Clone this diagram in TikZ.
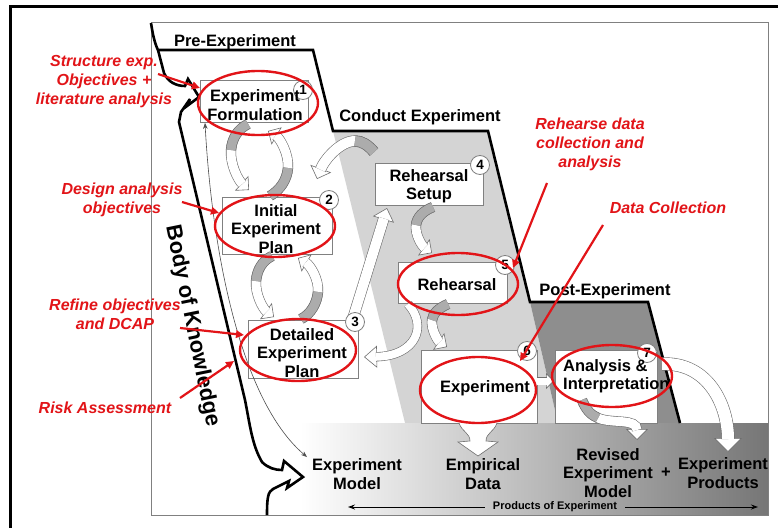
\documentclass[tikz,border=0pt]{standalone}
\usepackage{fontspec}
\setmainfont{Liberation Sans}
\usetikzlibrary{arrows.meta,shapes.geometric}
\definecolor{myred}{RGB}{226,20,24}
\definecolor{boxgray}{RGB}{128,128,128}
\definecolor{agray}{RGB}{110,110,110}
\definecolor{tailgray}{RGB}{172,172,172}
\definecolor{lightreg}{RGB}{212,212,212}
\definecolor{darkreg}{RGB}{142,142,142}
\definecolor{bandend}{RGB}{118,118,118}
\tikzset{
  bline/.style={black, line width=2.6pt, line join=miter, miter limit=6},
  box/.style={draw=boxgray, fill=white, line width=0.9pt, inner sep=0pt, anchor=north west},
  btxt/.style={font=\fontsize{16.5}{18.5}\selectfont\bfseries, align=center, inner sep=0pt},
  headtxt/.style={font=\fontsize{16.5}{19}\selectfont\bfseries, inner sep=0pt},
  rtxt/.style={text=myred, font=\fontsize{16}{19}\selectfont\bfseries\itshape, align=center, inner sep=0pt},
  redell/.style={ellipse, draw=myred, line width=2.4pt, inner sep=0pt},
  redarr/.style={draw=myred, line width=2.2pt, -{Triangle[length=8pt,width=7.5pt]}},
  num/.style={circle, draw=boxgray, fill=white, line width=0.8pt, minimum size=19pt, inner sep=0pt, font=\fontsize{13.5}{13.5}\selectfont\bfseries},
  thinarr/.style={draw=black!70, line width=0.6pt, {Stealth[length=6pt,width=4.5pt]}-{Stealth[length=6pt,width=4.5pt]}},
  poearr/.style={draw=black, line width=0.9pt, -{Stealth[length=7pt,width=5pt]}},
  headtip/.style 2 args={draw=agray, line width=0.6pt, -{Triangle[width=#1, length=#2, fill=white]}},
  shaft/.style 2 args={draw=agray, line width=0.6pt, double=white, double distance=#1, shorten >=#2},
  tailpart/.style={draw=agray, line width=0.6pt, double=tailgray, double distance=#1},
  funnel/.style={draw=agray, fill=white, line width=0.6pt, line join=miter},
}
% #1 shaft width, #2 head width, #3 head length, #4 shaft shortening, #5 path
\newcommand{\hollowarr}[5]{\draw[headtip={#2}{#3}] #5; \draw[shaft={#1}{#4}] #5;}
\begin{document}
\begin{tikzpicture}[x=1pt,y=-1pt]
\useasboundingbox (0,0) rectangle (778,527);
\fill[white] (0,0) rectangle (778,527);
% outer frame
\draw[line width=3pt] (10,540) -- (10,7) -- (790,7);
% inner picture and phase backgrounds
\fill[white] (151,23) rectangle (768,515);
\fill[lightreg] (333,131) -- (488,131) -- (530,302) -- (558,423) -- (405,423) -- cycle;
\fill[darkreg] (530,302) -- (648,302) -- (680,423) -- (558,423) -- cycle;
\shade[left color=white, right color=bandend] (300,423) rectangle (768,515);
\draw[boxgray, line width=1pt] (151,23) rectangle (768,515);
% phase boundary
\draw[bline] (151,23) .. controls (153,36) and (155,44) .. (158,50) -- (313,50) -- (333,131) -- (488,131) -- (530,302) -- (648,302) -- (680,423);
% body of knowledge outline
\draw[bline] (158,50) -- (164,73) .. controls (168,82) and (176,86) .. (185,86) -- (188,79) -- (199,97) -- (187,106) -- (190,99) -- (181,112) -- (179,122) -- (245,400) .. controls (250,425) and (252,445) .. (262,462) .. controls (268,468) and (275,470) .. (282,470) -- (284,461) -- (303,477) -- (287,488) -- (289,481) -- (273,489) .. controls (268,492) and (267,497) .. (267,515);
% boxes
\node[box, minimum width=108pt, minimum height=42pt] (b1) at (200,80) {};
\node[box, minimum width=110pt, minimum height=57pt] (b2) at (222,197) {};
\node[box, minimum width=110pt, minimum height=58pt] (b3) at (248,320) {};
\node[box, minimum width=108pt, minimum height=42pt] (b4) at (375,163) {};
\node[box, minimum width=109pt, minimum height=41pt] (b5) at (398,262) {};
\node[box, minimum width=116pt, minimum height=73pt] (b6) at (421,350) {};
\node[box, minimum width=102pt, minimum height=73pt] (b7) at (555,350) {};
% thin link from Experiment Model to Experiment Formulation
\coordinate (modelin) at (307,457);
\draw[thinarr] (b1.south west -| 205,0) .. controls (212,250) and (240,400) .. (modelin);
% hollow process arrows
\hollowarr{9pt}{20pt}{10pt}{9pt}{(248,124) .. controls (238,129) and (232,138) .. (231,150) .. controls (230,164) and (238,180) .. (249,190)}
\draw[tailpart=9pt] (248,124) .. controls (238,129) and (232,138) .. (231,150);
\hollowarr{9pt}{20pt}{10pt}{9pt}{(270,196) .. controls (280,190) and (287,180) .. (288,168) .. controls (289,154) and (280,138) .. (268,131)}
\draw[tailpart=9pt] (270,196) .. controls (280,190) and (287,180) .. (288,168);
\hollowarr{9pt}{20pt}{10pt}{9pt}{(272,256) .. controls (262,261) and (257,270) .. (256,281) .. controls (255,294) and (263,309) .. (274,317)}
\draw[tailpart=9pt] (272,256) .. controls (262,261) and (257,270) .. (256,281);
\hollowarr{9pt}{20pt}{10pt}{9pt}{(301,319) .. controls (311,314) and (317,303) .. (318,292) .. controls (319,279) and (310,265) .. (298,258)}
\draw[tailpart=9pt] (301,319) .. controls (311,314) and (317,303) .. (318,292);
\hollowarr{10pt}{22pt}{11pt}{10pt}{(374,152) .. controls (368,145) and (362,141) .. (355,141) .. controls (340,141) and (324,160) .. (317,179)}
\draw[tailpart=10pt] (374,152) .. controls (368,145) and (362,141) .. (355,141);
\hollowarr{10pt}{22pt}{12pt}{11pt}{(353,318) -- (387,208)}
\hollowarr{9pt}{20pt}{10pt}{9pt}{(433,207) .. controls (423,211) and (417,217) .. (416,225) .. controls (415,235) and (422,246) .. (432,253)}
\draw[tailpart=9pt] (433,207) .. controls (423,211) and (417,217) .. (416,225);
\hollowarr{9pt}{20pt}{10pt}{9pt}{(448,304) .. controls (439,308) and (433,313) .. (432,320) .. controls (431,330) and (438,341) .. (447,347)}
\draw[tailpart=9pt] (448,304) .. controls (439,308) and (433,313) .. (432,320);
\hollowarr{8pt}{22pt}{13pt}{12pt}{(408,304) .. controls (428,326) and (416,356) .. (364,357)}
\hollowarr{7pt}{16pt}{8pt}{7pt}{(537,381) -- (554,381)}
\hollowarr{9pt}{22pt}{11pt}{10pt}{(582,400) .. controls (586,410) and (591,415) .. (598,418) .. controls (612,424) and (637,418) .. (637,440)}
\draw[tailpart=9pt] (582,400) .. controls (586,410) and (591,415) .. (598,418);
\hollowarr{12pt}{28pt}{14pt}{13pt}{(662,364) .. controls (708,362) and (728,405) .. (728,452)}
\draw[funnel] (459,423) .. controls (462,432) and (470,433) .. (470,441) -- (458,442) -- (478,456) -- (498,442) -- (486,441) .. controls (486,433) and (494,432) .. (497,423);
% step numbers
\node[num] (n1) at (303,90) {1};
\node[num] (n2) at (329,200) {2};
\node[num] (n3) at (355,322) {3};
\node[num] (n4) at (480,165) {4};
\node[num] (n5) at (505,265) {5};
\node[num] (n6) at (527,351) {6};
\node[num] (n7) at (647,353) {7};
% box texts
\node[btxt] (t1) at (255,105) {Experiment\\Formulation};
\node[btxt] (t2) at (276,229) {Initial\\Experiment\\Plan};
\node[btxt] (t3) at (302,353) {Detailed\\Experiment\\Plan};
\node[btxt] (t4) at (429,186) {Rehearsal\\Setup};
\node[btxt] (t5) at (457,285) {Rehearsal};
\node[btxt] (t6) at (485,388) {Experiment};
\node[btxt, align=left, anchor=west] (t7) at (563,376) {Analysis \&\\Interpretation};
% phase headings
\node[headtxt] (h1) at (235,42) {Pre-Experiment};
\node[headtxt] (h2) at (420,117) {Conduct Experiment};
\node[headtxt] (h3) at (605,291) {Post-Experiment};
\node[font=\fontsize{22}{22}\selectfont\bfseries, rotate=-78.5, inner sep=0pt] (bok) at (192,326) {Body of Knowledge};
% products
\node[btxt] (p1) at (357,474) {Experiment\\Model};
\node[btxt] (p2) at (483,474) {Empirical\\Data};
\node[btxt] (p3) at (608,473) {Revised\\Experiment\\Model};
\node[btxt] (plus) at (666,473) {+};
\node[btxt] (p4) at (723,473) {Experiment\\Products};
\node[font=\fontsize{11}{11}\selectfont\bfseries, inner sep=0pt] (poe) at (555,507) {Products of Experiment};
\coordinate (poeL) at (348,507);
\coordinate (poeR) at (758,507);
\draw[poearr] ([xshift=-8pt]poe.west) -- (poeL);
\draw[poearr] ([xshift=8pt]poe.east) -- (poeR);
% red highlights
\node[redell, minimum width=120pt, minimum height=64pt] (e1) at (258,103) {};
\node[redell, minimum width=120pt, minimum height=62pt] (e2) at (275,226) {};
\node[redell, minimum width=116pt, minimum height=62pt] (e3) at (298,350) {};
\node[redell, minimum width=120pt, minimum height=62pt] (e5) at (458,284) {};
\node[redell, minimum width=116pt, minimum height=66pt] (e6) at (478,390) {};
\node[redell, minimum width=120pt, minimum height=62pt] (e7) at (612,376) {};
\node[rtxt] (r1) at (104,82) {Structure exp.\\Objectives +\\literature analysis};
\node[rtxt] (r2) at (122,200) {Design analysis\\objectives};
\node[rtxt] (r3) at (115,314) {Refine objectives\\and DCAP};
\node[rtxt] (r4) at (105,408) {Risk Assessment};
\node[rtxt] (r5) at (590,144) {Rehearse data\\collection and\\analysis};
\node[rtxt] (r6) at (668,208) {Data Collection};
\coordinate (r1s) at (158,74);  \coordinate (r1e) at (200,88);
\coordinate (r2s) at (182,202); \coordinate (r2e) at (219,213);
\coordinate (r3s) at (180,328); \coordinate (r3e) at (244,335);
\coordinate (r4s) at (180,398); \coordinate (r4e) at (234,361);
\coordinate (r5s) at (547,183); \coordinate (r5e) at (513,268);
\coordinate (r6s) at (603,225); \coordinate (r6e) at (520,361);
\draw[redarr] (r1s) -- (r1e);
\draw[redarr] (r2s) -- (r2e);
\draw[redarr] (r3s) -- (r3e);
\draw[redarr] (r4s) -- (r4e);
\draw[redarr] (r5s) -- (r5e);
\draw[redarr] (r6s) -- (r6e);
\end{tikzpicture}
\end{document}
